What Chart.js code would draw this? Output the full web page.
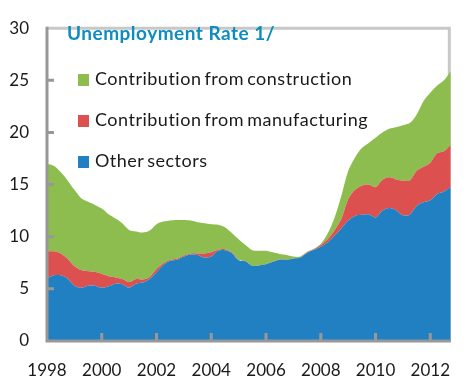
<!DOCTYPE html>
<html>
<head>
<meta charset="utf-8">
<script src="https://cdn.jsdelivr.net/npm/chart.js@4.4.1/dist/chart.umd.min.js"></script>
<style>
  html, body { margin: 0; padding: 0; background: #fff; }
  #wrap { position: relative; width: 469px; height: 377px; font-family: Lato, sans-serif; }
  #chart { position: absolute; left: 0; top: 0; }
  #title { position: absolute; left: 67px; top: 23px; font-size: 19px; line-height: 19px; letter-spacing: 0.5px; font-weight: bold; color: #0e8cc0; white-space: nowrap; }
  .key { position: absolute; left: 78px; font-size: 18px; line-height: 18px; letter-spacing: 0.5px; word-spacing: -2px; color: #1a1a1a; white-space: nowrap; }
  .key span { display: inline-block; width: 11px; height: 12px; margin-right: 6px; vertical-align: -1px; }
</style>
</head>
<body>
<div id="wrap">
  <canvas id="chart" width="469" height="377"></canvas>
  <div id="title">Unemployment Rate 1/</div>
  <div id="legend"></div>
</div>
<script>
  // quarterly, 1998Q1 .. 2012Q4
  const startYear = 1998;
  const endYear = 2012;

  const otherSectors = [
    6.0, 6.3, 6.3, 6.0, 5.3, 5.1, 5.3, 5.3, 5.1, 5.25, 5.5, 5.45,
    5.1, 5.5, 5.6, 5.95, 6.6, 7.3, 7.7, 7.8, 8.1, 8.3, 8.25, 8.0,
    8.1, 8.65, 8.7, 8.45, 7.75, 7.65, 7.2, 7.25, 7.35, 7.6, 7.8, 7.8,
    7.9, 8.0, 8.45, 8.75, 9.05, 9.45, 10.1, 10.8, 11.55, 12.0, 12.1, 12.15,
    11.85, 12.5, 12.75, 12.55, 12.05, 12.1, 12.95, 13.3, 13.5, 14.1, 14.35, 14.8
  ];
  const manufacturing = [
    2.6, 2.3, 2.1, 1.9, 1.9, 1.7, 1.4, 1.35, 1.35, 0.95, 0.6, 0.5,
    0.55, 0.45, 0.3, 0.2, 0.3, 0.15, 0.1, 0.1, 0.1, 0.1, 0.15, 0.4,
    0.4, 0.1, 0.1, 0.05, 0.03, 0.03, 0.02, 0.02, 0.02, 0.02, 0.02, 0.02,
    0.02, 0.02, 0.05, 0.05, 0.15, 0.3, 0.5, 0.9, 2.05, 2.5, 2.8, 2.85,
    2.9, 2.95, 2.95, 2.95, 3.35, 3.3, 3.35, 3.4, 3.6, 3.9, 3.85, 4.0
  ];
  const construction = [
    8.4, 8.2, 7.8, 7.5, 7.3, 6.9, 6.65, 6.4, 6.25, 5.95, 5.65, 5.35,
    5.0, 4.55, 4.5, 4.45, 4.3, 4.0, 3.75, 3.7, 3.4, 3.15, 3.0, 2.9,
    2.7, 2.4, 2.1, 1.85, 1.97, 1.52, 1.48, 1.38, 1.28, 0.88, 0.53, 0.43,
    0.18, 0.08, 0.05, 0.05, 0.1, 0.55, 1.2, 2.2, 2.7, 3.1, 3.6, 4.0,
    4.75, 4.55, 4.65, 5.0, 5.3, 5.5, 5.4, 6.3, 6.7, 6.5, 6.8, 7.1
  ];

  const seriesNames = ["Other sectors", "Contribution from manufacturing", "Contribution from construction"];
  const seriesColors = ["#2080c2", "#dd5050", "#8ebd4f"];
  const yearTicks = [1998, 2000, 2002, 2004, 2006, 2008, 2010, 2012];
  const valueTicks = [0, 5, 10, 15, 20, 25, 30];

  const quarters = [];
  for (let y = startYear; y <= endYear; y++) {
    for (let q = 0; q < 4; q++) quarters.push(y + q / 4);
  }

  function toPoints(values) {
    return values.map((v, i) => ({ x: quarters[i], y: v }));
  }

  // legend, top item is the last stacked series
  const legend = document.getElementById("legend");
  [2, 1, 0].forEach((k, row) => {
    const item = document.createElement("div");
    item.className = "key";
    item.style.top = (69 + row * 41) + "px";
    item.innerHTML = '<span style="background:' + seriesColors[k] + '"></span>' + seriesNames[k];
    legend.appendChild(item);
  });

  // frame: light top/right edge under the areas, grey axes with inner ticks on top
  const framePlugin = {
    id: "frame",
    beforeDatasetsDraw(chart) {
      const { ctx, chartArea: a } = chart;
      ctx.save();
      ctx.strokeStyle = "#c8c8c8";
      ctx.lineWidth = 3;
      ctx.beginPath();
      ctx.moveTo(a.left, a.top);
      ctx.lineTo(a.right - 1.5, a.top);
      ctx.lineTo(a.right - 1.5, a.bottom);
      ctx.stroke();
      ctx.restore();
    },
    afterDatasetsDraw(chart) {
      const { ctx, chartArea: a, scales } = chart;
      ctx.save();
      ctx.strokeStyle = "#989898";
      ctx.lineWidth = 3;
      ctx.beginPath();
      ctx.moveTo(a.left, a.top - 1.5);
      ctx.lineTo(a.left, a.bottom);
      ctx.lineTo(a.right, a.bottom);
      valueTicks.slice(1, -1).forEach(v => {
        const py = scales.y.getPixelForValue(v);
        ctx.moveTo(a.left, py);
        ctx.lineTo(a.left + 7, py);
      });
      yearTicks.slice(1).forEach(t => {
        const px = scales.x.getPixelForValue(t);
        ctx.moveTo(px, a.bottom);
        ctx.lineTo(px, a.bottom - 8);
      });
      ctx.stroke();
      ctx.restore();
    }
  };

  const tickFont = { family: "Lato", size: 17 };

  new Chart(document.getElementById("chart"), {
    type: "line",
    data: {
      datasets: [otherSectors, manufacturing, construction].map((vals, k) => ({
        label: seriesNames[k],
        data: toPoints(vals),
        backgroundColor: seriesColors[k],
        borderColor: seriesColors[k],
        borderWidth: 0,
        pointRadius: 0,
        tension: 0.3,
        fill: k === 0 ? "origin" : "-1"
      }))
    },
    options: {
      responsive: false,
      animation: false,
      layout: { padding: { top: 16, right: 0, left: 0, bottom: 0 } },
      plugins: {
        legend: { display: false },
        tooltip: { enabled: false }
      },
      scales: {
        x: {
          type: "linear",
          min: startYear,
          max: endYear + 0.75,
          afterBuildTicks(scale) {
            scale.ticks = yearTicks.map(v => ({ value: v }));
          },
          afterFit(scale) { scale.height = 36; },
          grid: { display: false, drawTicks: false },
          border: { display: false },
          ticks: {
            font: tickFont,
            color: "#1a1a1a",
            padding: 19,
            maxRotation: 0,
            autoSkip: false,
            callback: v => String(v)
          }
        },
        y: {
          stacked: true,
          min: 0,
          max: 30,
          afterBuildTicks(scale) {
            scale.ticks = valueTicks.map(v => ({ value: v }));
          },
          afterFit(scale) { scale.width = 47; },
          grid: { display: false, drawTicks: false },
          border: { display: false },
          ticks: {
            font: tickFont,
            color: "#1a1a1a",
            padding: 18
          }
        }
      }
    },
    plugins: [framePlugin]
  });
</script>
</body>
</html>
